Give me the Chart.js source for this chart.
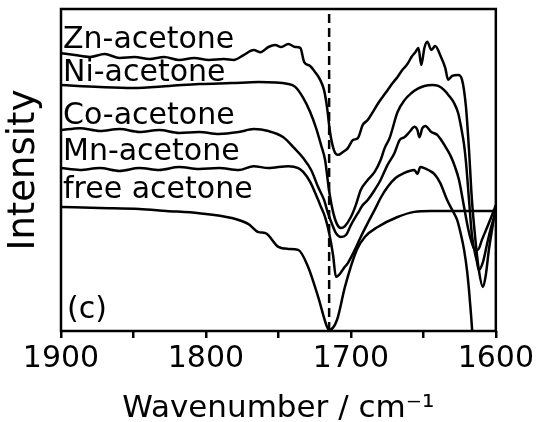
<!DOCTYPE html>
<html>
<head>
<meta charset="utf-8">
<script src="https://cdn.jsdelivr.net/npm/chart.js@4"></script>
<style>
  html, body { margin: 0; padding: 0; background: #fff; }
  canvas { display: block; }
</style>
</head>
<body>
<canvas id="chart" width="537" height="422"></canvas>
<script>
// Spectra: [wavenumber (cm-1), intensity (a.u.)]
const znAcetone = [
  [1900,86.3],[1890.4,85.7],[1880.1,85.1],[1869.9,86.0],[1859.6,84.8],[1849.3,85.1],[1839.0,84.5],
  [1828.8,85.1],[1818.5,84.2],[1808.2,84.8],[1797.9,84.2],[1787.7,84.5],[1780.8,84.2],[1774.0,85.7],
  [1767.1,87.3],[1762.3,86.6],[1756.9,88.2],[1752.1,88.8],[1748.0,88.2],[1743.2,89.1],[1738.4,88.2],
  [1734.9,87.9],[1732.2,83.5],[1728.1,82.3],[1724.7,80.4],[1721.2,78.0],[1718.5,74.8],[1716.4,69.3],
  [1714.4,61.8],[1711.7,56.2],[1708.9,54.7],[1705.5,55.6],[1702.1,56.8],[1698.6,59.3],[1695.2,59.9],
  [1691.8,64.0],[1688.4,65.5],[1684.9,68.0],[1681.5,70.5],[1678.1,72.7],[1674.7,74.8],[1671.2,77.0],
  [1667.8,78.9],[1664.4,81.1],[1661.0,82.9],[1658.2,85.1],[1655.5,86.6],[1653.4,87.9],[1651.4,82.6],
  [1649.3,87.9],[1647.3,89.8],[1644.5,87.3],[1641.8,88.5],[1638.4,85.7],[1634.9,81.7],[1632.9,78.0],
  [1630.1,79.2],[1626.0,79.5],[1623.3,78.0],[1620.6,69.6],[1618.5,56.2],[1616.5,40.7],[1614.4,29.8],
  [1611.7,18.9],[1608.9,13.7],[1606.9,17.4],[1604.8,25.2],[1602.1,32.9],[1600,39.1]
];

const niAcetone = [
  [1900,76.4],[1873.3,75.8],[1850.7,75.5],[1825.3,76.1],[1804.8,76.7],[1782.2,77.0],[1763.7,77.3],
  [1743.2,76.7],[1738.4,75.8],[1732.9,72.4],[1728.1,68.0],[1724.0,63.0],[1720.6,57.8],[1717.8,53.1],
  [1715.1,43.8],[1712.3,37.0],[1709.6,33.2],[1706.9,32.0],[1704.1,32.6],[1700.0,35.4],[1696.6,39.1],
  [1693.2,43.8],[1688.4,46.9],[1683.6,49.4],[1679.5,53.1],[1676.7,56.8],[1673.3,59.9],[1667.8,68.0],
  [1663.0,71.7],[1658.2,73.9],[1654.1,75.2],[1649.3,76.1],[1643.8,76.4],[1639.7,76.1],[1635.6,74.8],
  [1632.2,73.0],[1628.8,70.8],[1626.0,67.7],[1624.0,63.4],[1621.9,57.8],[1620.6,52.5],[1618.5,40.7],
  [1616.5,29.8],[1613.0,21.4],[1611.7,18.9],[1608.9,21.4],[1606.2,26.7],[1603.4,32.0],[1600,37.0]
];

const coAcetone = [
  [1900,62.4],[1887.0,63.0],[1873.3,62.1],[1859.6,62.7],[1845.9,61.8],[1832.2,62.4],[1818.5,61.5],
  [1804.8,61.8],[1791.1,61.2],[1777.4,61.8],[1767.1,62.7],[1756.9,62.1],[1746.6,60.2],[1739.7,57.1],
  [1732.9,53.7],[1727.4,50.0],[1722.6,44.7],[1718.5,40.7],[1715.8,36.6],[1713.0,33.2],[1710.3,30.4],
  [1706.9,29.2],[1703.4,29.8],[1700.0,32.9],[1695.2,36.6],[1691.8,39.1],[1688.4,40.7],[1683.6,43.8],
  [1679.5,46.9],[1674.7,51.6],[1669.9,55.3],[1666.4,59.3],[1663.0,60.2],[1659.6,61.8],[1656.2,63.4],
  [1654.1,62.4],[1652.7,60.2],[1650.7,63.0],[1648.6,63.7],[1644.5,61.8],[1640.4,60.9],[1637.7,59.3],
  [1634.2,56.8],[1630.8,54.0],[1628.1,50.9],[1625.4,46.9],[1621.9,38.5],[1619.2,32.0],[1616.5,27.3],
  [1614.4,25.2],[1612.3,25.2],[1609.6,28.3],[1606.2,32.0],[1603.4,35.1],[1600,39.1]
];

const mnAcetone = [
  [1900,50.6],[1887.0,50.0],[1873.3,50.6],[1859.6,49.7],[1845.9,50.6],[1832.2,50.0],[1818.5,50.9],
  [1804.8,50.3],[1791.1,50.6],[1777.4,50.0],[1767.1,51.2],[1756.9,50.6],[1743.2,51.2],[1736.3,50.6],
  [1732.9,49.4],[1728.1,46.3],[1724.0,42.2],[1720.6,38.5],[1717.8,35.4],[1715.1,30.7],[1712.3,23.6],
  [1710.3,16.8],[1708.2,17.4],[1704.8,19.6],[1702.1,21.1],[1697.3,25.2],[1693.2,29.2],[1688.4,33.5],
  [1683.6,37.6],[1679.5,41.3],[1674.7,44.7],[1669.2,47.5],[1663.0,49.1],[1659.6,49.7],[1656.2,50.0],
  [1654.1,48.8],[1652.1,50.9],[1649.3,50.6],[1646.6,50.0],[1642.5,48.8],[1638.4,46.0],[1633.6,40.7],
  [1630.1,37.6],[1626.7,34.5],[1624.0,29.8],[1621.9,25.2],[1619.9,18.9],[1618.5,12.7],[1617.1,5.0],
  [1615.8,-3.1]
];

const freeAcetone = [
  [1900,38.5],[1873.3,38.2],[1845.9,37.9],[1827.4,37.3],[1804.8,36.6],[1782.2,35.1],[1770.6,33.2],
  [1763.7,30.7],[1758.9,30.4],[1750.0,26.1],[1743.2,25.5],[1736.3,25.2],[1729.5,19.9],[1722.6,10.6],
  [1716.4,1.2],[1715.0,0.3],[1709.6,3.4],[1704.1,13.7],[1695.9,25.2],[1690.4,29.2],[1681.5,32.3],
  [1667.8,35.4],[1656.2,37.0],[1644.5,37.3],[1626.7,37.3],[1600,37.3]
];

const curveNames = ['Zn-acetone', 'Ni-acetone', 'Co-acetone', 'Mn-acetone', 'free acetone'];
const peakMarker = 1715;
const xTicks = [1900, 1800, 1700, 1600];

const FONT = '"DejaVu Sans", sans-serif';

// where each curve name sits on the intensity axis (baseline)
const labelLevels = [87.9, 77.6, 64.3, 53.1, 41.3];

function toPoints(arr) {
  return arr.map(p => ({ x: p[0], y: p[1] }));
}

const series = [znAcetone, niAcetone, coAcetone, mnAcetone, freeAcetone];

const datasets = series.map((s, i) => ({
  label: curveNames[i],
  data: toPoints(s),
  borderColor: '#000',
  borderWidth: 2.5,
  pointRadius: 0,
  cubicInterpolationMode: 'monotone',
  fill: false
}));

datasets.push({
  label: 'marker',
  data: [{ x: peakMarker, y: 0 }, { x: peakMarker, y: 100 }],
  borderColor: '#000',
  borderWidth: 2.5,
  borderDash: [9, 5],
  pointRadius: 0
});

// frame around the plot area
const framePlugin = {
  id: 'frame',
  afterDatasetsDraw(chart) {
    const { ctx, chartArea } = chart;
    ctx.save();
    ctx.strokeStyle = '#000';
    ctx.lineWidth = 2.5;
    ctx.strokeRect(chartArea.left, chartArea.top, chartArea.right - chartArea.left, chartArea.bottom - chartArea.top);
    ctx.restore();
  }
};

// curve names and panel letter inside the plot
const labelPlugin = {
  id: 'curveLabels',
  afterDatasetsDraw(chart) {
    const { ctx, chartArea } = chart;
    const y = chart.scales.y;
    ctx.save();
    ctx.fillStyle = '#000';
    ctx.font = '30px ' + FONT;
    ctx.textAlign = 'left';
    ctx.textBaseline = 'alphabetic';
    curveNames.forEach((name, i) => {
      ctx.fillText(name, chartArea.left + 2, y.getPixelForValue(labelLevels[i]));
    });
    ctx.fillText('(c)', chartArea.left + 6, y.getPixelForValue(4));
    ctx.restore();
  }
};

new Chart(document.getElementById('chart'), {
  type: 'line',
  data: { datasets: datasets },
  options: {
    responsive: false,
    animation: false,
    layout: { padding: { top: 9, right: 37, bottom: 0, left: 0 } },
    plugins: {
      legend: { display: false },
      tooltip: { enabled: false }
    },
    scales: {
      x: {
        type: 'linear',
        reverse: true,
        min: 1600,
        max: 1900,
        border: { display: false },
        grid: {
          drawOnChartArea: false,
          drawTicks: true,
          tickLength: 7,
          lineWidth: 2.5,
          color: '#000'
        },
        ticks: {
          stepSize: 50,
          autoSkip: false,
          maxRotation: 0,
          padding: 3,
          color: '#000',
          font: { family: FONT, size: 30 },
          callback: v => (xTicks.includes(v) ? String(v) : '')
        },
        title: {
          display: true,
          text: 'Wavenumber / cm⁻¹',
          color: '#000',
          font: { family: FONT, size: 31, lineHeight: 0.85 },
          padding: { top: 0, bottom: 0 }
        },
        afterFit(scale) { scale.height = 91; }
      },
      y: {
        min: 0,
        max: 100,
        border: { display: false },
        grid: { display: false },
        ticks: { display: false },
        title: {
          display: true,
          text: 'Intensity',
          color: '#000',
          font: { family: FONT, size: 37, lineHeight: 1 },
          padding: { top: 6, bottom: 0 }
        },
        afterFit(scale) { scale.width = 61; }
      }
    }
  },
  plugins: [framePlugin, labelPlugin]
});
</script>
</body>
</html>
